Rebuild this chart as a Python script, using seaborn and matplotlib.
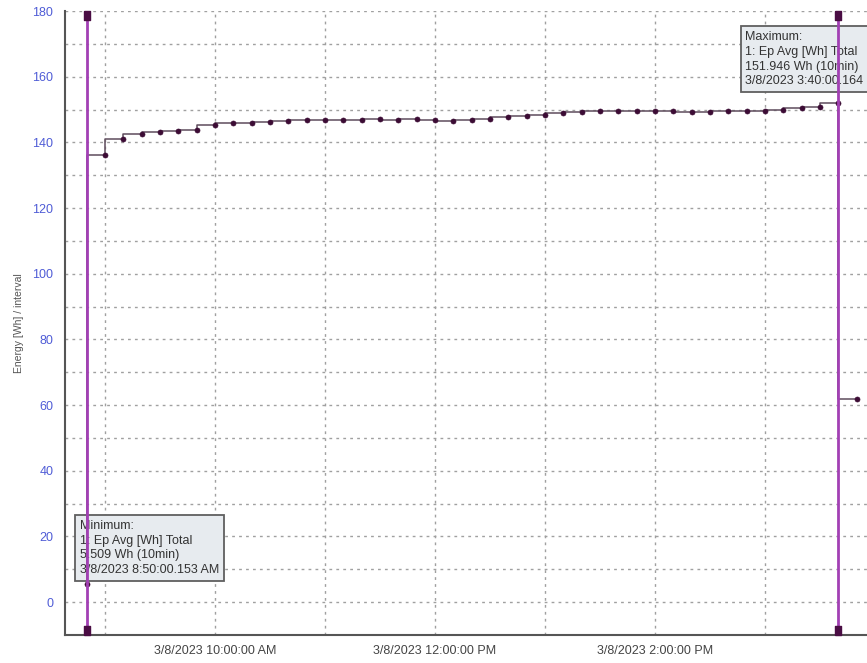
import matplotlib
matplotlib.use("Agg")
import matplotlib.pyplot as plt
import matplotlib.dates as mdates
from matplotlib.ticker import MultipleLocator, FuncFormatter
import seaborn as sns
import pandas as pd

# ---------------- data ----------------
date_str = "2023-03-08"
times = ["08:50",
         "09:00", "09:10", "09:20", "09:30", "09:40", "09:50",
         "10:00", "10:10", "10:20", "10:30", "10:40", "10:50",
         "11:00", "11:10", "11:20", "11:30", "11:40", "11:50",
         "12:00", "12:10", "12:20", "12:30", "12:40", "12:50",
         "13:00", "13:10", "13:20", "13:30", "13:40", "13:50",
         "14:00", "14:10", "14:20", "14:30", "14:40", "14:50",
         "15:00", "15:10", "15:20", "15:30", "15:40", "15:50"]
energy = [5.509,
          136.3, 141.1, 142.7, 143.1, 143.4, 143.9,
          145.2, 146.0, 146.0, 146.3, 146.6, 146.9,
          146.9, 146.9, 146.9, 147.2, 146.8, 147.2,
          146.8, 146.4, 146.8, 147.0, 147.6, 148.0,
          148.3, 148.8, 149.1, 149.4, 149.4, 149.4,
          149.4, 149.4, 149.3, 149.3, 149.7, 149.7,
          149.7, 150.0, 150.4, 150.8, 151.946, 62.0]
y_label = "Energy [Wh] / interval"
min_lines = ["Minimum:", "1: Ep Avg [Wh] Total", "5.509 Wh (10min)",
             "3/8/2023 8:50:00.153 AM"]
max_lines = ["Maximum:", "1: Ep Avg [Wh] Total", "151.946 Wh (10min)",
             "3/8/2023 3:40:00.164 PM"]
x_start = "08:38:10"
x_end = "15:55:35"
y_min, y_max = -10, 180

# ---------------- style ----------------
sns.set_style("white")
plt.rcParams['font.family'] = ['Liberation Sans', 'DejaVu Sans']

df = pd.DataFrame({
    "time": pd.to_datetime([f"{date_str} {t}" for t in times]),
    "energy": energy,
})

fig = plt.figure(figsize=(8.67, 6.63), dpi=100)
ax = fig.add_axes([65 / 867, 28 / 663, (867 - 65) / 867, 624 / 663])

sns.lineplot(data=df, x="time", y="energy", ax=ax, estimator=None,
             drawstyle="steps-pre", color="#5e4c5c", lw=1.1,
             marker="o", markersize=3.6, markerfacecolor="#3c0c35",
             markeredgecolor="#3c0c35", markeredgewidth=0.5, zorder=4)

ax.set_xlim(pd.Timestamp(f"{date_str} {x_start}"), pd.Timestamp(f"{date_str} {x_end}"))
ax.set_ylim(y_min, y_max)

# cursors at min and max
hang_down = [(-0.375, 0), (0.375, 0), (0.375, -1), (-0.375, -1), (-0.375, 0)]
hang_up = [(-0.375, 0), (0.375, 0), (0.375, 1), (-0.375, 1), (-0.375, 0)]
i_min = df["energy"].idxmin()
i_max = df["energy"].idxmax()
for i in (i_min, i_max):
    t = df.loc[i, "time"]
    ax.plot([t, t], [y_max, y_min], color="#a240b4", lw=2, zorder=5)
    ax.plot([t], [y_max], ls="none", marker=hang_down, ms=12.5,
            mfc="#4a0d44", mec="#4a0d44", zorder=6, clip_on=False)
    ax.plot([t], [y_min], ls="none", marker=hang_up, ms=12.5,
            mfc="#4a0d44", mec="#4a0d44", zorder=6, clip_on=False)

box = dict(boxstyle="square,pad=0.38", fc="#e7ebef", ec="#5f5f5f", lw=1.3)
ax.annotate("\n".join(min_lines), xy=(df.loc[i_min, "time"], df.loc[i_min, "energy"]),
            xytext=(-7, 64), textcoords="offset pixels", ha="left", va="top",
            fontsize=9, color="#333333", linespacing=1.3, bbox=box, zorder=3)
ax.annotate("\n".join(max_lines), xy=(df.loc[i_max, "time"], df.loc[i_max, "energy"]),
            xytext=(-93, 72), textcoords="offset pixels", ha="left", va="top",
            fontsize=9, color="#333333", linespacing=1.3, bbox=box, zorder=3,
            annotation_clip=False)

# axes formatting
def fmt_time(x, pos=None):
    d = mdates.num2date(x)
    h = d.hour % 12 or 12
    ampm = "AM" if d.hour < 12 else "PM"
    return f"{d.month}/{d.day}/{d.year} {h}:{d.minute:02d}:{d.second:02d} {ampm}"

ax.xaxis.set_major_locator(mdates.HourLocator(byhour=[10, 12, 14]))
ax.xaxis.set_minor_locator(mdates.HourLocator())
ax.xaxis.set_major_formatter(FuncFormatter(fmt_time))
ax.yaxis.set_major_locator(MultipleLocator(20))
ax.yaxis.set_minor_locator(MultipleLocator(10))

ax.grid(which="both", axis="both", ls=(0, (2, 3)), color="#a0a0a0", lw=1)
ax.set_axisbelow(True)

for s in ("top", "right"):
    ax.spines[s].set_visible(False)
for s in ("left", "bottom"):
    ax.spines[s].set_color("#555555")
    ax.spines[s].set_linewidth(1.5)

ax.tick_params(axis="y", which="both", direction="out", length=5, width=1,
               color="#555555", labelcolor="#4f5cd6", labelsize=9)
ax.tick_params(axis="x", which="both", direction="inout", length=7, width=1,
               color="#555555", labelcolor="#444444", labelsize=9, pad=4)

ax.set_xlabel("")
ax.set_ylabel(y_label, fontsize=7.5, color="#555555", labelpad=6)

fig.savefig("out.png", dpi=100)
